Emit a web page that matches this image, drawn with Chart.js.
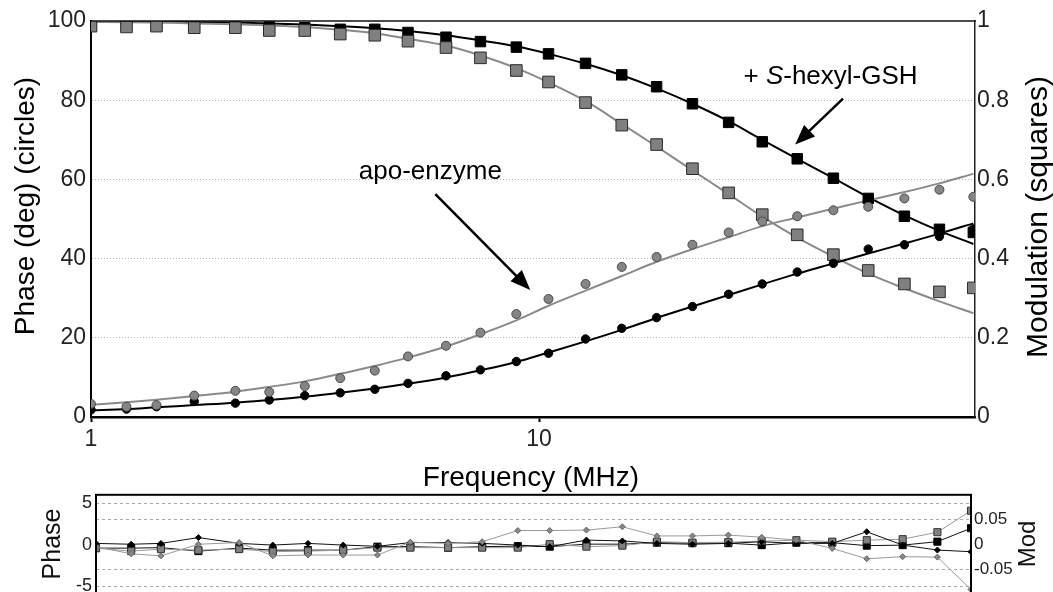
<!DOCTYPE html>
<html><head><meta charset="utf-8">
<script src="https://cdn.jsdelivr.net/npm/chart.js@4.4.1/dist/chart.umd.min.js"></script>
<style>
html,body{margin:0;padding:0;background:#fff;overflow:hidden;width:1053px;height:592px;}
#main{position:absolute;left:0;top:0;}
#resid{position:absolute;left:0;top:480px;}
</style></head><body>
<canvas id="main" width="1053" height="500"></canvas>
<canvas id="resid" width="1053" height="130"></canvas>
<script>
// ---------- data ----------
const frequencies = [1.0, 1.2, 1.4, 1.7, 2.1, 2.5, 3.0, 3.6, 4.3, 5.1, 6.2, 7.4, 8.9, 10.5, 12.7, 15.3, 18.3, 22.0, 26.5, 31.5, 37.7, 45.4, 54.3, 65.4, 78.3, 93.2];

const apoPhase    = [3.3, 2.6, 3.0, 5.4, 6.6, 6.3, 7.8, 9.8, 11.7, 15.3, 18.0, 21.3, 26.0, 29.8, 33.6, 37.9, 40.4, 43.5, 46.6, 49.4, 50.7, 52.2, 53.1, 55.2, 57.4, 55.6];
const hexylPhase  = [1.8, 2.0, 2.6, 3.9, 3.5, 4.3, 5.4, 6.1, 7.0, 8.5, 10.4, 11.9, 14.0, 16.1, 19.7, 22.4, 25.1, 27.9, 31.0, 33.6, 36.6, 38.8, 42.4, 43.5, 45.6, 47.5];
const apoMod      = [0.987, 0.985, 0.987, 0.983, 0.983, 0.976, 0.976, 0.967, 0.964, 0.949, 0.933, 0.907, 0.875, 0.846, 0.794, 0.737, 0.688, 0.627, 0.566, 0.511, 0.460, 0.410, 0.370, 0.336, 0.316, 0.326];
const hexylMod    = [0.993, 0.992, 0.993, 0.986, 0.990, 0.985, 0.983, 0.979, 0.979, 0.971, 0.959, 0.948, 0.934, 0.917, 0.893, 0.864, 0.834, 0.791, 0.744, 0.695, 0.652, 0.603, 0.552, 0.507, 0.474, 0.466];

const apoPhaseFit   = [3.1, 3.7, 4.35, 5.3, 6.4, 7.6, 9.0, 10.9, 12.9, 15.0, 17.8, 20.9, 24.4, 28.1, 31.9, 35.6, 39.2, 42.4, 45.4, 48.2, 50.4, 52.6, 54.7, 56.8, 59.0, 61.4];
const hexylPhaseFit = [1.7, 2.0, 2.45, 3.0, 3.6, 4.3, 5.1, 6.1, 7.2, 8.4, 10.0, 11.8, 13.9, 16.3, 19.1, 22.0, 25.0, 27.9, 30.8, 33.5, 36.2, 38.8, 41.3, 43.8, 46.3, 48.9];
const apoModFit     = [0.998, 0.997, 0.996, 0.994, 0.992, 0.989, 0.985, 0.978, 0.969, 0.955, 0.938, 0.913, 0.881, 0.845, 0.798, 0.740, 0.683, 0.623, 0.563, 0.506, 0.453, 0.405, 0.362, 0.325, 0.292, 0.262];
const hexylModFit   = [1.0, 0.999, 0.998, 0.997, 0.996, 0.994, 0.991, 0.987, 0.982, 0.975, 0.964, 0.951, 0.936, 0.917, 0.892, 0.863, 0.830, 0.791, 0.747, 0.700, 0.652, 0.603, 0.555, 0.509, 0.470, 0.437];

const apoPhaseResid   = [-0.25, -1.1, -1.35, 0.05, 0.25, -1.35, -1.25, -1.25, -1.25, 0.3, 0.15, 0.35, 1.7, 1.7, 1.75, 2.15, 1.05, 1.05, 1.15, 0.9, 0.55, -0.45, -1.7, -1.45, -1.5, -5.4];
const hexylPhaseResid = [0.15, 0.05, 0.15, 0.85, 0.15, -0.05, 0.15, -0.05, -0.2, 0.25, 0.25, 0.15, -0.05, -0.25, 0.55, 0.45, 0.15, 0.05, 0.15, 0.35, 0.15, 0.15, 1.55, -0.05, -0.65, -0.85];
const apoModResid     = [-0.007, -0.013, -0.009, -0.011, -0.009, -0.014, -0.013, -0.011, -0.006, -0.006, -0.006, -0.006, -0.006, 0.001, -0.004, -0.002, 0.006, 0.004, 0.005, 0.007, 0.009, 0.006, 0.009, 0.011, 0.025, 0.068];
const hexylModResid   = [-0.007, -0.007, -0.006, -0.013, -0.007, -0.011, -0.011, -0.011, -0.004, -0.004, -0.006, -0.004, -0.003, -0.004, 0.001, 0.001, 0.004, 0.003, 0.003, -0.001, 0.004, 0.004, -0.002, -0.001, 0.006, 0.033];

const freqTicks = [1, 10];
const residPhaseTicks = [-5, 0, 5];
const residModTicks = [-0.05, 0, 0.05];

// ---------- helpers ----------
const FONT = "'Liberation Sans', Arial, Helvetica, sans-serif";
Chart.defaults.font.family = FONT;
Chart.defaults.color = '#222';

const pts = ys => frequencies.map((f, i) => ({x: f, y: ys[i]}));
function pointSet(label, ys, axis, style, r, bg, bc) {
  return {label, data: pts(ys), yAxisID: axis, showLine: false, pointStyle: style,
    pointRadius: r, pointBackgroundColor: bg, pointBorderColor: bc, pointBorderWidth: 1,
    clip: 0, order: 1};
}
function lineSet(label, ys, axis, color, w) {
  return {label, data: pts(ys), yAxisID: axis, showLine: true, borderColor: color,
    borderWidth: w, pointRadius: 0, cubicInterpolationMode: 'monotone', fill: false,
    clip: 0, order: 5};
}
function residSet(label, ys, axis, color, style, r, bg, bc) {
  return {label, data: pts(ys), yAxisID: axis, showLine: true, borderColor: color,
    borderWidth: 1, tension: 0, pointStyle: style, pointRadius: r,
    pointBackgroundColor: bg, pointBorderColor: bc, pointBorderWidth: 1, clip: 0};
}
function arrow(ctx, x1, y1, x2, y2) {
  const a = Math.atan2(y2 - y1, x2 - x1), L = 20, W = 8;
  ctx.beginPath(); ctx.moveTo(x1, y1);
  ctx.lineTo(x2 - L * 0.8 * Math.cos(a), y2 - L * 0.8 * Math.sin(a)); ctx.stroke();
  ctx.beginPath(); ctx.moveTo(x2, y2);
  ctx.lineTo(x2 - L * Math.cos(a) + W * Math.sin(a), y2 - L * Math.sin(a) - W * Math.cos(a));
  ctx.lineTo(x2 - L * Math.cos(a) - W * Math.sin(a), y2 - L * Math.sin(a) + W * Math.cos(a));
  ctx.closePath(); ctx.fill();
}
function rotText(ctx, txt, x, y, size) {
  ctx.save(); ctx.translate(x, y); ctx.rotate(-Math.PI / 2);
  ctx.font = size + 'px ' + FONT; ctx.textAlign = 'center'; ctx.textBaseline = 'alphabetic';
  ctx.fillText(txt, 0, 0); ctx.restore();
}
const tidy = v => String(+Number(v).toFixed(3));

// annotation anchors in data units (MHz, phase degrees)
const hexylLabel = {x: 28.6, y: 84.0};
const hexylArrow = {x1: 47.7, y1: 80.4, x2: 37.3, y2: 68.8};
const apoLabel = {x: 3.96, y: 60.0};
const apoArrow = {x1: 5.87, y1: 56.3, x2: 9.56, y2: 32.1};

const mainDeco = {
  id: 'mainDeco',
  afterDraw(chart) {
    const {ctx, chartArea: a, scales: {x, y}} = chart;
    ctx.save();
    ctx.strokeStyle = '#111'; ctx.lineWidth = 1.5;
    ctx.beginPath(); ctx.moveTo(a.left, a.top); ctx.lineTo(a.right + 1, a.top); ctx.stroke();
    ctx.fillStyle = '#000';
    // axis titles
    rotText(ctx, 'Phase (deg) (circles)', 34, 206, 28);
    rotText(ctx, 'Modulation (squares)', 1047, 217, 30);
    ctx.font = '28px ' + FONT; ctx.textAlign = 'center'; ctx.textBaseline = 'alphabetic';
    ctx.fillText('Frequency (MHz)', (a.left + a.right) / 2 - 2, 486);
    // annotations
    ctx.textAlign = 'left';
    let px = x.getPixelForValue(hexylLabel.x), py = y.getPixelForValue(hexylLabel.y);
    ctx.font = '26px ' + FONT; ctx.fillText('+ ', px, py); px += ctx.measureText('+ ').width;
    ctx.font = 'italic 26px ' + FONT; ctx.fillText('S', px, py); px += ctx.measureText('S').width;
    ctx.font = '26px ' + FONT; ctx.fillText('-hexyl-GSH', px, py);
    ctx.fillText('apo-enzyme', x.getPixelForValue(apoLabel.x), y.getPixelForValue(apoLabel.y));
    ctx.strokeStyle = '#000'; ctx.lineWidth = 2.5;
    arrow(ctx, x.getPixelForValue(hexylArrow.x1), y.getPixelForValue(hexylArrow.y1),
               x.getPixelForValue(hexylArrow.x2), y.getPixelForValue(hexylArrow.y2));
    arrow(ctx, x.getPixelForValue(apoArrow.x1), y.getPixelForValue(apoArrow.y1),
               x.getPixelForValue(apoArrow.x2), y.getPixelForValue(apoArrow.y2));
    ctx.restore();
  }
};

const hideEnds = c => (c.tick && (c.tick.value === 0 || c.tick.value === 100)) ? 'rgba(0,0,0,0)' : '#b5b5b5';

new Chart(document.getElementById('main'), {
  type: 'line',
  data: {datasets: [
    pointSet('apo phase', apoPhase, 'y', 'circle', 4.5, '#858585', '#4a4a4a'),
    pointSet('S-hexyl-GSH phase', hexylPhase, 'y', 'circle', 4.2, '#000', '#000'),
    pointSet('apo modulation', apoMod, 'y1', 'rect', 8.2, '#808080', '#2a2a2a'),
    pointSet('S-hexyl-GSH modulation', hexylMod, 'y1', 'rect', 7.4, '#000', '#000'),
    lineSet('apo phase fit', apoPhaseFit, 'y', '#8a8a8a', 2),
    lineSet('S-hexyl-GSH phase fit', hexylPhaseFit, 'y', '#000', 2),
    lineSet('apo modulation fit', apoModFit, 'y1', '#8a8a8a', 2),
    lineSet('S-hexyl-GSH modulation fit', hexylModFit, 'y1', '#000', 2)
  ]},
  options: {
    responsive: false, animation: false, devicePixelRatio: 1,
    layout: {padding: {top: 21, left: 0, right: 0, bottom: 0}},
    plugins: {legend: {display: false}, tooltip: {enabled: false}},
    scales: {
      x: {type: 'logarithmic', min: 1, max: 94, position: 'bottom',
        afterBuildTicks: s => { s.ticks = freqTicks.map(v => ({value: v})); },
        afterFit: s => { s.height = 83; },
        ticks: {font: {size: 23}, color: '#222', padding: 4, maxRotation: 0, autoSkip: false,
          callback: v => String(v)},
        grid: {drawOnChartArea: false, drawTicks: true, tickLength: 5, tickColor: '#000', tickWidth: 2},
        border: {display: true, color: '#000', width: 2.5}},
      y: {position: 'left', min: 0, max: 100, ticks: {stepSize: 20, font: {size: 23}, color: '#222', padding: 5},
        afterFit: s => { s.width = 91; },
        grid: {drawTicks: false, color: hideEnds, lineWidth: 1},
        border: {display: true, color: '#000', width: 2, dash: [1, 2]}},
      y1: {position: 'right', min: 0, max: 1,
        ticks: {stepSize: 0.2, font: {size: 23}, color: '#222', padding: 2, callback: v => tidy(v)},
        afterFit: s => { s.width = 78; },
        grid: {drawOnChartArea: false, drawTicks: false},
        border: {display: true, color: '#222', width: 1.5}}
    }
  },
  plugins: [mainDeco]
});

const residDeco = {
  id: 'residDeco',
  afterDraw(chart) {
    const {ctx, chartArea: a} = chart;
    ctx.save();
    ctx.strokeStyle = '#000'; ctx.lineWidth = 2;
    ctx.strokeRect(a.left, a.top, a.right - a.left, a.bottom - a.top);
    ctx.fillStyle = '#111';
    rotText(ctx, 'Phase', 60, 64, 25);
    rotText(ctx, 'Mod', 1035, 64, 24);
    ctx.restore();
  }
};
const hideZero = c => (c.tick && Math.abs(c.tick.value) < 1e-9) ? 'rgba(0,0,0,0)' : '#aaa';

new Chart(document.getElementById('resid'), {
  type: 'line',
  data: {datasets: [
    residSet('apo phase residuals', apoPhaseResid, 'y', '#9a9a9a', 'rectRot', 3, '#888', '#666'),
    residSet('S-hexyl-GSH phase residuals', hexylPhaseResid, 'y', '#111', 'rectRot', 3, '#000', '#000'),
    residSet('apo modulation residuals', apoModResid, 'y1', '#9a9a9a', 'rect', 5, '#808080', '#333'),
    residSet('S-hexyl-GSH modulation residuals', hexylModResid, 'y1', '#111', 'rect', 5, '#000', '#000')
  ]},
  options: {
    responsive: false, animation: false, devicePixelRatio: 1,
    layout: {padding: {top: 14, bottom: 15.5, left: 0, right: 0}},
    plugins: {legend: {display: false}, tooltip: {enabled: false}},
    scales: {
      x: {type: 'logarithmic', display: false, min: frequencies[0], max: frequencies[frequencies.length - 1]},
      y: {position: 'left', min: -6, max: 6,
        afterBuildTicks: s => { s.ticks = residPhaseTicks.map(v => ({value: v})); },
        afterFit: s => { s.width = 96; },
        ticks: {font: {size: 18}, color: '#222', padding: 4, callback: v => tidy(v)},
        grid: {drawTicks: false, color: hideZero, lineWidth: 1},
        border: {display: false, dash: [3, 3]}},
      y1: {position: 'right', min: -0.1, max: 0.1,
        afterBuildTicks: s => { s.ticks = residModTicks.map(v => ({value: v})); },
        afterFit: s => { s.width = 82; },
        ticks: {font: {size: 17}, color: '#222', padding: 3, callback: v => tidy(v)},
        grid: {drawTicks: false, color: hideZero, lineWidth: 1},
        border: {display: false, dash: [3, 3]}}
    }
  },
  plugins: [residDeco]
});
</script>
</body></html>
